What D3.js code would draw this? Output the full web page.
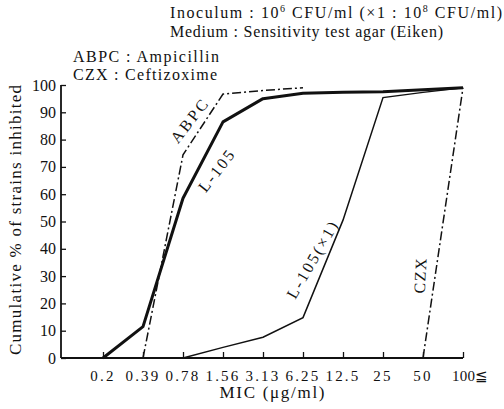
<!DOCTYPE html>
<html><head><meta charset="utf-8">
<script src="https://cdn.jsdelivr.net/npm/d3@7"></script>
<style>body{margin:0;background:#fff}svg{display:block}text{font-family:"Liberation Serif","Times New Roman","DejaVu Serif",serif;fill:#111}</style>
</head><body>
<svg id="c" width="504" height="409"></svg>
<script>
const categories = ["0.2","0.39","0.78","1.56","3.13","6.25","12.5","25","50","100"];
const yTicks = [0,10,20,30,40,50,60,70,80,90,100];
const L105 = [0,11.5,58.5,86.5,95,97,97.3,97.5,98.3,99];
const L105x1 = [null,null,0,3.9,7.6,14.8,50.5,95.4,97.3,99];
const ABPC = [null,0,74.4,96.7,98,99,null,null,null,null];
const CZX = [null,null,null,null,null,null,null,null,0,99];

const svg = d3.select("#c");
const x = d3.scalePoint().domain(categories).range([103,463]);
const y = d3.scaleLinear().domain([0,100]).range([358,85]);
const x0 = 61;

// axes
const xa = svg.append("g").attr("transform","translate(0,358)")
  .call(d3.axisBottom(x).tickSize(-6).tickFormat(""));
xa.select(".domain").remove();
xa.selectAll("line").attr("stroke","#111").attr("stroke-width",1.3);
svg.append("line").attr("x1",x0).attr("x2",x("100")).attr("y1",358).attr("y2",358).attr("stroke","#111").attr("stroke-width",1.8);

const ya = svg.append("g").attr("transform",`translate(${x0},0)`)
  .call(d3.axisRight(y).tickValues(yTicks).tickSize(5).tickFormat(""));
ya.select(".domain").remove();
ya.selectAll("line").attr("stroke","#111").attr("stroke-width",1.3);
svg.append("line").attr("x1",x0).attr("x2",x0).attr("y1",y(100)).attr("y2",358).attr("stroke","#111").attr("stroke-width",1.8);

// tick labels
svg.append("g").selectAll("text").data(yTicks).join("text")
  .attr("x",x0-5).attr("y",d=>y(d)+5.5).attr("text-anchor","end").attr("font-size",16).text(d=>d);
svg.append("g").selectAll("text").data(categories).join("text")
  .attr("x",d=> d==="100" ? x(d)-11 : x(d)).attr("y",381)
  .attr("text-anchor",d=> d==="100" ? "start" : "middle")
  .attr("font-size",15).attr("letter-spacing",d=> d==="100" ? 0.3 : 2.2).text(d=> d==="100" ? "100≦" : d);

// lines
const line = d3.line().defined(d=>d.v!==null).x(d=>x(d.c)).y(d=>y(d.v));
const mk = arr => categories.map((c,i)=>({c, v:arr[i]}));
svg.append("path").datum(mk(L105x1)).attr("d",line).attr("fill","none").attr("stroke","#111").attr("stroke-width",1.5);
svg.append("path").datum(mk(ABPC)).attr("d",line).attr("fill","none").attr("stroke","#111").attr("stroke-width",1.5).attr("stroke-dasharray","9,3,2,3");
svg.append("path").datum(mk(CZX)).attr("d",line).attr("fill","none").attr("stroke","#111").attr("stroke-width",1.5).attr("stroke-dasharray","9,3,2,3");
svg.append("path").datum(mk(L105)).attr("d",line).attr("fill","none").attr("stroke","#111").attr("stroke-width",3).attr("stroke-linejoin","round");

// curve labels
const lab = (t,cx,cy,a,len) => svg.append("text").attr("transform",`translate(${cx},${cy}) rotate(${a})`)
  .attr("text-anchor","middle").attr("dy","0.35em").attr("font-size",16)
  .attr("textLength",len).attr("lengthAdjust","spacing").text(t);
lab("ABPC",189,121,-52,50);
lab("L-105",216,171,-52,48);
lab("L-105(×1)",312,260,-60,86);
lab("CZX",420,276,-87,35);

// header texts
const h1 = svg.append("text").attr("x",170).attr("y",18).attr("font-size",16);
h1.append("tspan").text("Inoculum : 10");
h1.append("tspan").attr("font-size",10).attr("dy",-6).text("6");
h1.append("tspan").attr("dy",6).text(" CFU/ml (×1 : 10");
h1.append("tspan").attr("font-size",10).attr("dy",-6).text("8");
h1.append("tspan").attr("dy",6).text(" CFU/ml)");
h1.attr("textLength",332).attr("lengthAdjust","spacing");
svg.append("text").attr("x",170).attr("y",37).attr("font-size",16).attr("textLength",273).attr("lengthAdjust","spacing").text("Medium : Sensitivity test agar (Eiken)");
svg.append("text").attr("x",73).attr("y",62).attr("font-size",16).attr("textLength",146).attr("lengthAdjust","spacing").text("ABPC : Ampicillin");
svg.append("text").attr("x",73).attr("y",80).attr("font-size",16).attr("textLength",144).attr("lengthAdjust","spacing").text("CZX : Ceftizoxime");

// axis titles
svg.append("text").attr("transform","translate(21,220) rotate(-90)").attr("text-anchor","middle").attr("font-size",17)
  .attr("textLength",270).attr("lengthAdjust","spacing").text("Cumulative % of strains inhibited");
svg.append("text").attr("x",272).attr("y",398).attr("text-anchor","middle").attr("font-size",17)
  .attr("textLength",105).attr("lengthAdjust","spacing").text("MIC (μg/ml)");
</script>
</body></html>
